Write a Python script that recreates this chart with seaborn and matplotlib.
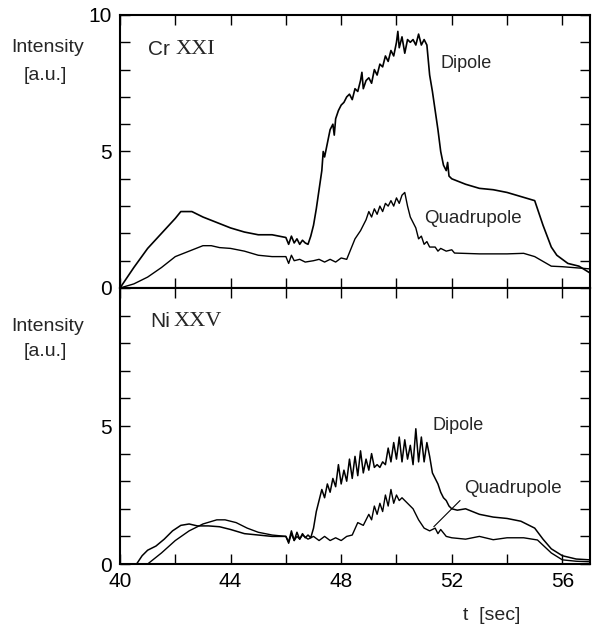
import numpy as np
import pandas as pd
import matplotlib
matplotlib.use("Agg")
import matplotlib.pyplot as plt
import seaborn as sns

# ---------------- data ----------------
cr_dip_t = [40.0, 40.5, 41.0, 41.5, 42.0, 42.2, 42.6, 43.0, 43.5, 44.0, 44.5, 45.0, 45.5, 46.0,
            46.1, 46.2, 46.3, 46.4, 46.5, 46.6, 46.7, 46.8, 46.9, 47.0, 47.1, 47.2, 47.3, 47.35,
            47.4, 47.5, 47.6, 47.7, 47.75, 47.8, 47.9, 48.0, 48.1, 48.2, 48.3, 48.4, 48.5, 48.6,
            48.7, 48.75, 48.8, 48.9, 49.0, 49.1, 49.2, 49.3, 49.4, 49.5, 49.6, 49.7, 49.8, 49.9,
            50.0, 50.05, 50.1, 50.2, 50.3, 50.4, 50.5, 50.6, 50.7, 50.8, 50.9, 51.0, 51.1, 51.2,
            51.3, 51.4, 51.5, 51.6, 51.7, 51.8, 51.85, 51.9, 52.0, 52.5, 53.0, 53.5, 54.0, 54.5,
            55.0, 55.3, 55.6, 55.8, 56.2, 56.6, 57.0]
cr_dip_y = [0.0, 0.75, 1.45, 2.0, 2.55, 2.8, 2.8, 2.6, 2.4, 2.2, 2.05, 1.95, 1.95, 1.85,
            1.6, 1.9, 1.65, 1.8, 1.6, 1.75, 1.65, 1.6, 1.9, 2.3, 2.9, 3.6, 4.3, 5.0,
            4.8, 5.3, 5.8, 6.0, 5.6, 6.2, 6.5, 6.7, 6.8, 7.0, 7.1, 6.9, 7.3, 7.2,
            7.6, 7.9, 7.3, 7.6, 7.7, 7.5, 8.0, 7.8, 8.2, 8.1, 8.5, 8.3, 8.7, 8.5,
            9.0, 9.4, 8.8, 9.2, 8.6, 9.1, 9.0, 9.1, 8.9, 9.3, 8.9, 9.1, 8.9, 7.8,
            7.2, 6.5, 5.8, 5.0, 4.5, 4.3, 4.6, 4.1, 4.0, 3.8, 3.65, 3.6, 3.5, 3.35,
            3.2, 2.3, 1.5, 1.2, 0.9, 0.8, 0.55]

cr_quad_t = [40.0, 40.5, 41.0, 41.5, 42.0, 42.5, 43.0, 43.3, 43.6, 44.0, 44.5, 45.0, 45.5, 46.0,
             46.1, 46.2, 46.3, 46.5, 46.7, 47.0, 47.2, 47.4, 47.6, 47.8, 48.0, 48.2, 48.3, 48.5,
             48.7, 48.9, 49.0, 49.1, 49.2, 49.3, 49.4, 49.5, 49.6, 49.7, 49.8, 49.9, 50.0, 50.1,
             50.2, 50.3, 50.4, 50.5, 50.6, 50.7, 50.8, 50.9, 51.0, 51.1, 51.2, 51.4, 51.5, 51.6,
             51.8, 52.0, 52.1, 53.0, 54.0, 54.6, 55.0, 55.6, 56.0, 57.0]
cr_quad_y = [0.0, 0.15, 0.4, 0.75, 1.15, 1.35, 1.55, 1.55, 1.48, 1.45, 1.35, 1.2, 1.15, 1.15,
             0.9, 1.2, 1.0, 1.05, 0.95, 1.0, 1.05, 0.95, 1.05, 0.95, 1.1, 1.05, 1.3, 1.8,
             2.1, 2.5, 2.8, 2.6, 2.9, 2.7, 3.0, 2.8, 3.1, 3.0, 3.2, 3.0, 3.3, 3.1,
             3.4, 3.5, 3.0, 2.6, 2.4, 2.2, 1.8, 1.9, 1.6, 1.7, 1.5, 1.5, 1.35, 1.45,
             1.35, 1.4, 1.28, 1.25, 1.25, 1.27, 1.15, 0.8, 0.78, 0.7]

ni_dip_t = [40.6, 40.8, 41.0, 41.3, 41.6, 41.9, 42.2, 42.5, 42.8, 43.2, 43.6, 44.0, 44.5, 45.0,
            45.5, 46.0, 46.1, 46.2, 46.3, 46.4, 46.5, 46.6, 46.7, 46.8, 46.9, 47.0, 47.1, 47.2,
            47.3, 47.4, 47.5, 47.6, 47.7, 47.8, 47.9, 48.0, 48.1, 48.2, 48.3, 48.4, 48.5, 48.6,
            48.7, 48.8, 48.9, 49.0, 49.1, 49.2, 49.3, 49.4, 49.5, 49.6, 49.7, 49.8, 49.9, 50.0,
            50.1, 50.2, 50.3, 50.4, 50.5, 50.6, 50.7, 50.8, 50.9, 51.0, 51.1, 51.2, 51.3, 51.4,
            51.5, 51.6, 51.7, 51.8, 51.9, 52.0, 52.2, 52.5, 53.0, 53.5, 54.0, 54.5, 55.0, 55.3,
            55.6, 56.0, 56.5, 57.0]
ni_dip_y = [0.0, 0.3, 0.5, 0.65, 0.9, 1.2, 1.4, 1.45, 1.38, 1.38, 1.35, 1.25, 1.1, 1.05,
            1.0, 1.0, 0.8, 1.2, 0.85, 1.15, 0.9, 1.1, 0.95, 1.05, 0.95, 1.3, 1.9, 2.3,
            2.7, 2.4, 2.9, 2.6, 3.1, 2.8, 3.6, 2.9, 3.4, 3.0, 3.8, 3.1, 3.9, 3.2,
            4.1, 3.3, 3.8, 3.4, 4.0, 3.5, 3.6, 3.5, 3.7, 3.6, 4.2, 3.7, 4.4, 3.8,
            4.6, 3.7, 4.5, 3.8, 4.3, 3.6, 4.9, 3.7, 4.6, 3.7, 4.4, 3.9, 3.3, 3.1,
            2.9, 2.6, 2.4, 2.3, 2.1, 2.0, 1.95, 2.0, 1.8, 1.7, 1.65, 1.55, 1.3, 0.9,
            0.55, 0.3, 0.18, 0.15]

ni_quad_t = [41.0, 41.5, 42.0, 42.5, 43.0, 43.5, 43.8, 44.2, 44.6, 45.0, 45.5, 46.0, 46.1, 46.2,
             46.3, 46.4, 46.5, 46.6, 46.8, 47.0, 47.2, 47.4, 47.6, 47.8, 48.0, 48.2, 48.4, 48.6,
             48.8, 49.0, 49.1, 49.2, 49.3, 49.4, 49.5, 49.6, 49.7, 49.8, 49.9, 50.0, 50.1, 50.2,
             50.4, 50.6, 50.8, 51.0, 51.2, 51.4, 51.5, 51.6, 51.8, 52.0, 52.5, 53.0, 53.5, 54.0,
             54.6, 55.1, 55.6, 56.0, 56.5, 57.0]
ni_quad_y = [0.0, 0.4, 0.85, 1.2, 1.45, 1.6, 1.6, 1.5, 1.3, 1.15, 1.05, 1.0, 0.75, 1.1,
             0.85, 1.0, 0.9, 1.05, 0.9, 1.0, 0.85, 1.0, 0.85, 0.95, 0.85, 1.0, 1.05, 1.5,
             1.4, 1.8, 1.6, 2.1, 1.8, 2.2, 1.9, 2.5, 2.1, 2.7, 2.2, 2.5, 2.3, 2.4,
             2.2, 2.0, 1.6, 1.3, 1.2, 1.3, 1.1, 1.25, 1.0, 0.95, 0.9, 1.0, 0.88, 0.95,
             0.95, 0.87, 0.4, 0.15, 0.1, 0.08]

x_major = [40, 44, 48, 52, 56]
x_minor = [42, 46, 50, 54]

# ---------------- figure ----------------
sns.set_style("ticks")
plt.rcParams['font.family'] = ['Liberation Sans', 'DejaVu Sans']

fig = plt.figure(figsize=(5.92, 6.30), dpi=100)
L, R = 120 / 592, 590 / 592
top_t, top_b, bot_b = 1 - 15 / 630, 1 - 288 / 630, 1 - 564 / 630
ax1 = fig.add_axes([L, top_b, R - L, top_t - top_b])
ax2 = fig.add_axes([L, bot_b, R - L, top_b - bot_b])

def draw(ax, t, y, lw):
    df = pd.DataFrame({"t": t, "y": y})
    sns.lineplot(data=df, x="t", y="y", ax=ax, color="black", linewidth=lw,
                 estimator=None, sort=False)

draw(ax1, cr_dip_t, cr_dip_y, 1.2)
draw(ax1, cr_quad_t, cr_quad_y, 1.0)
draw(ax2, ni_dip_t, ni_dip_y, 1.1)
draw(ax2, ni_quad_t, ni_quad_y, 1.0)

for ax, yt in ((ax1, [0, 5, 10]), (ax2, [0, 5])):
    ax.set_xlim(40, 57)
    ax.set_ylim(0, 10)
    ax.set_xticks(x_major)
    ax.set_xticks(x_minor, minor=True)
    ax.set_yticks(yt)
    ax.set_yticks([v for v in range(0, 11) if v not in yt], minor=True)
    ax.tick_params(which="both", direction="in", top=True, right=True,
                   length=7, width=1.0, colors="black", labelsize=15, pad=6)
    ax.set_xlabel("")
    ax.set_ylabel("")
    for s in ax.spines.values():
        s.set_linewidth(1.5)
        s.set_color("black")
        s.set_visible(True)

ax1.tick_params(labelbottom=False)
ax2.set_xticklabels([str(v) for v in x_major])

# panel labels
ax1.text(41.0, 8.72, "Cr", fontsize=15, va="center", ha="left")
ax1.text(42.0, 8.72, "XXI", fontsize=16, va="center", ha="left", family="Liberation Serif")
ax2.text(41.08, 8.77, "Ni", fontsize=15, va="center", ha="left")
ax2.text(41.92, 8.77, "XXV", fontsize=16, va="center", ha="left", family="Liberation Serif")

# curve labels
ax1.text(51.6, 8.24, "Dipole", fontsize=13, va="center", ha="left")
ax1.text(51.0, 2.56, "Quadrupole", fontsize=13.5, va="center", ha="left")
ax2.text(51.32, 5.03, "Dipole", fontsize=13, va="center", ha="left")
ax2.text(52.45, 2.75, "Quadrupole", fontsize=13.5, va="center", ha="left")
ax2.plot([52.3, 51.35], [2.3, 1.35], color="black", linewidth=0.8)

# y labels
for ycen, ycen2 in ((1 - 48 / 630, 1 - 76 / 630), (1 - 326 / 630, 1 - 351 / 630)):
    fig.text(48 / 592, ycen, "Intensity", fontsize=14, ha="center", va="center")
    fig.text(45 / 592, ycen2, "[a.u.]", fontsize=14, ha="center", va="center")

fig.text(492 / 592, 1 - 616 / 630, "t  [sec]", fontsize=14, ha="center", va="center")

fig.savefig("out.png", dpi=100, facecolor="white")
